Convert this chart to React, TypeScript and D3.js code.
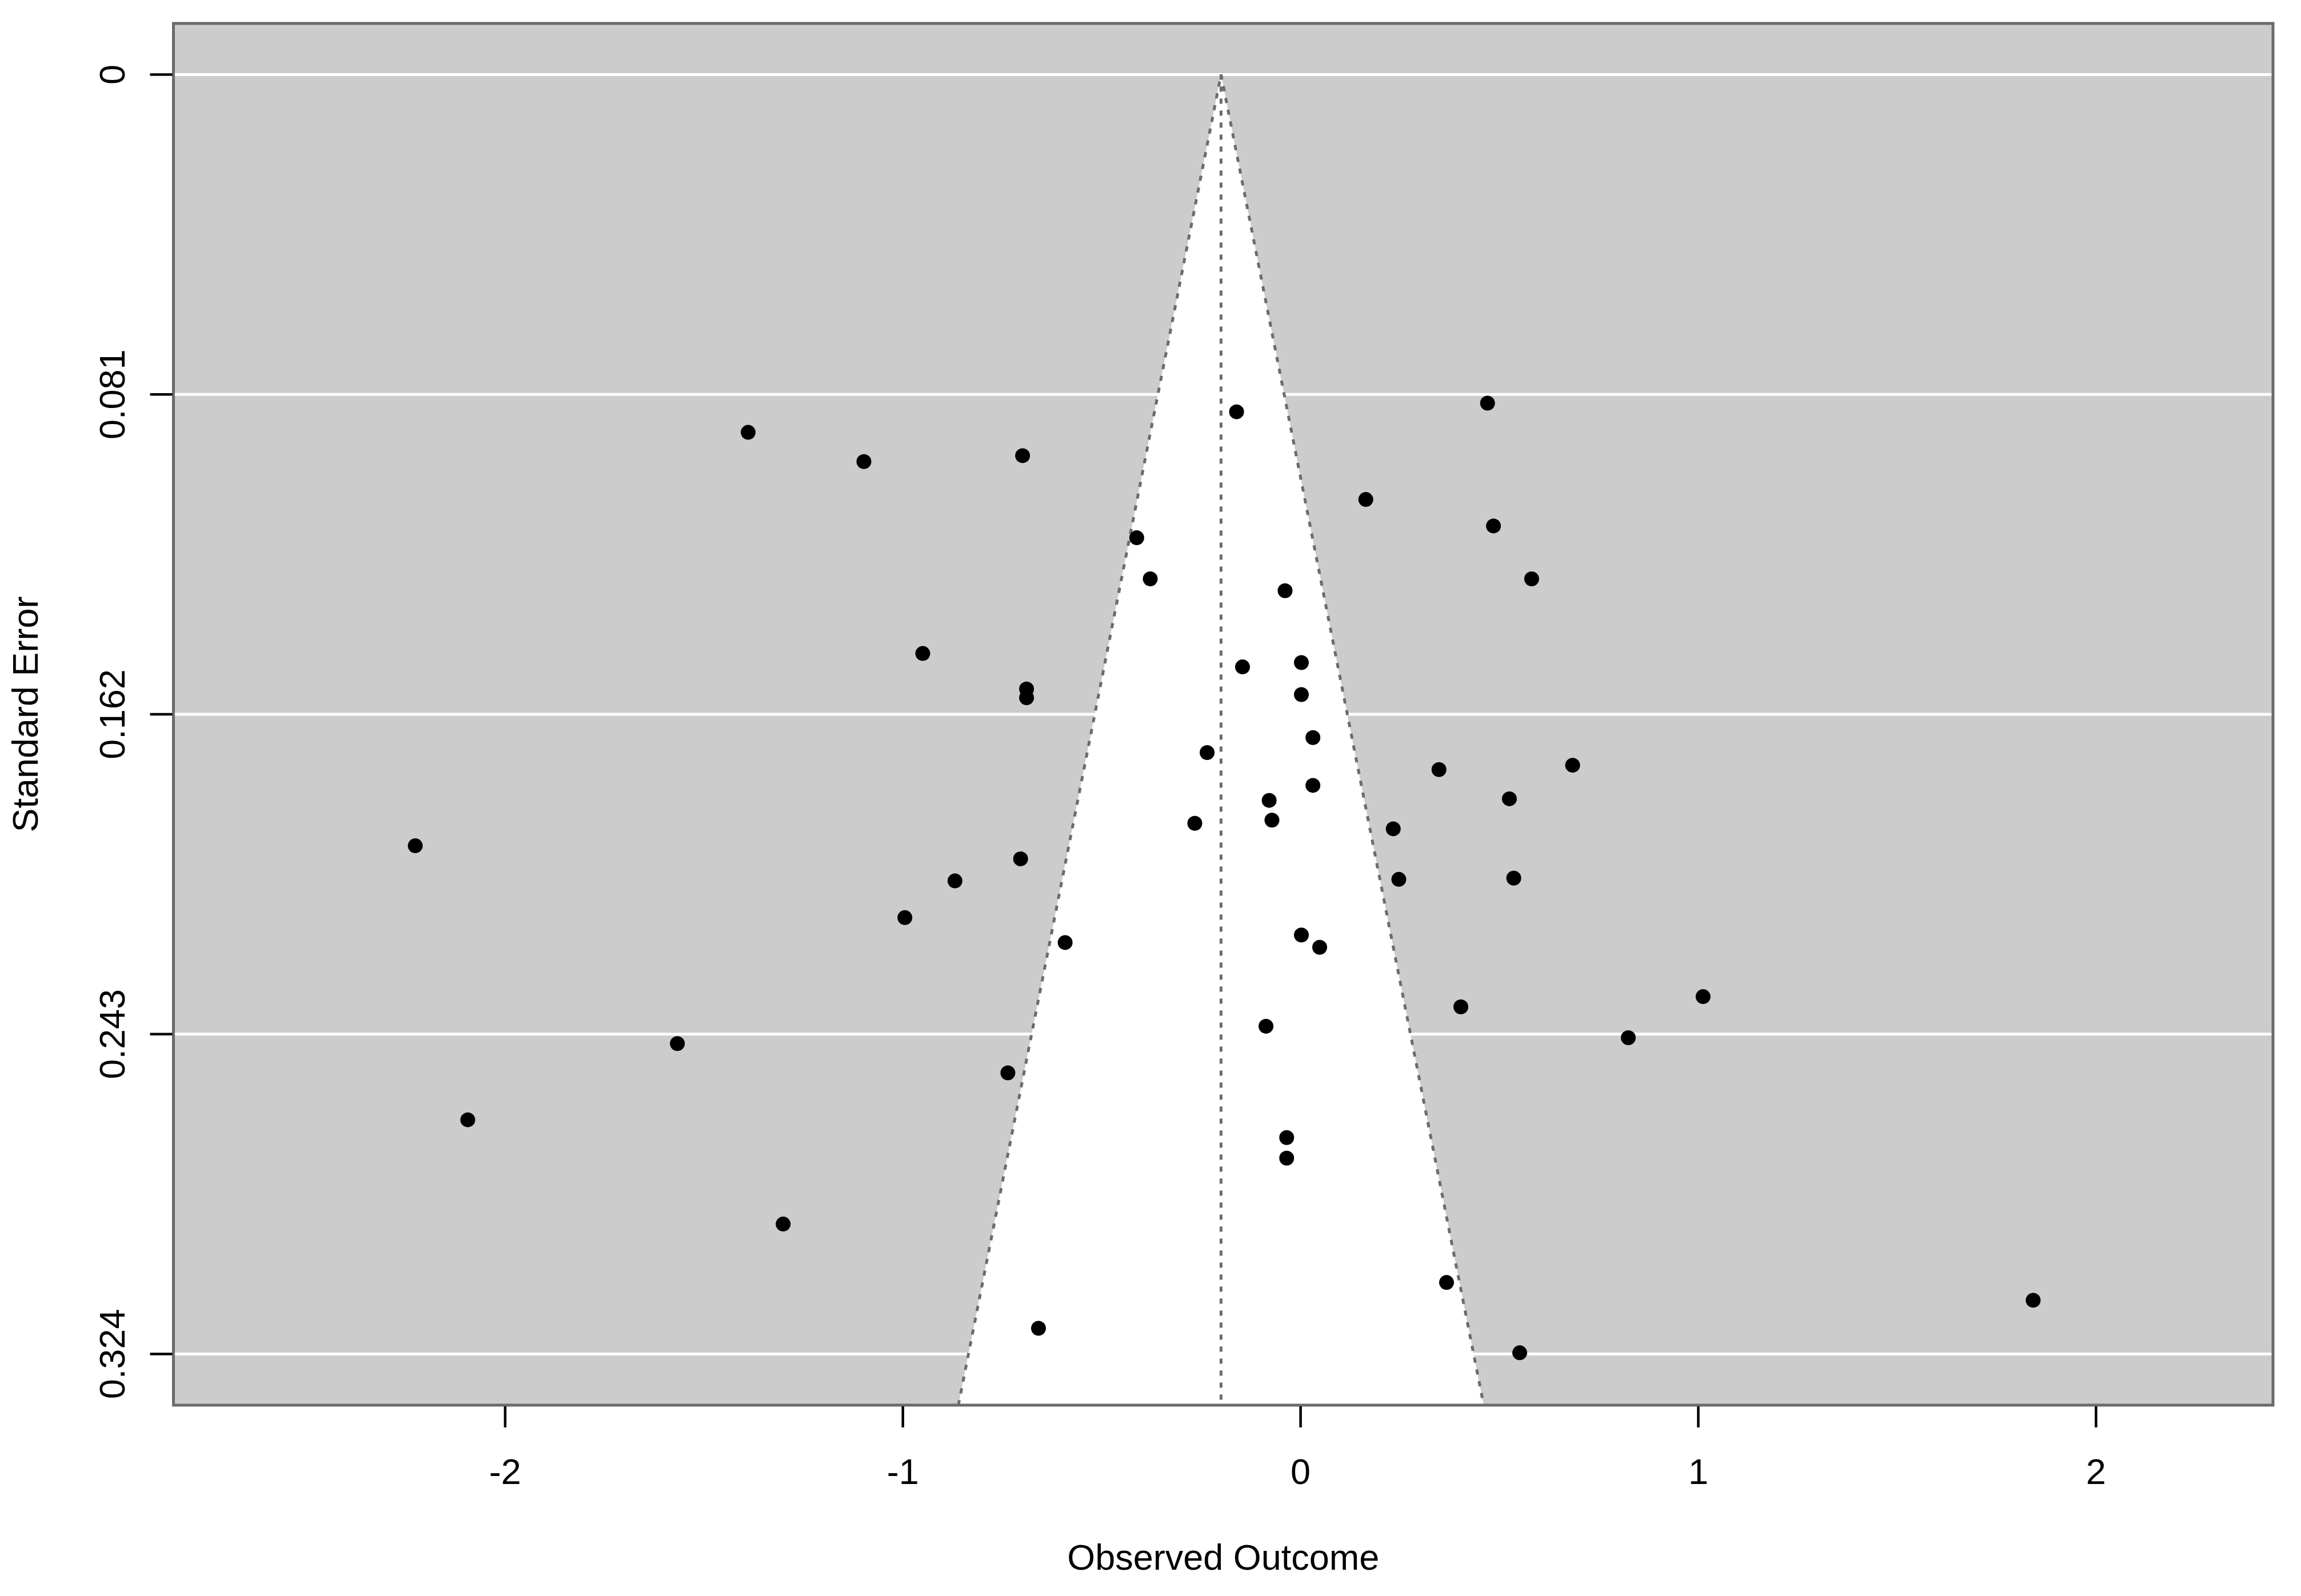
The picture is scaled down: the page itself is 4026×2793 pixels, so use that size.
import React from "react";
import * as d3 from "d3";

// observed outcomes (x) and their standard errors (y)
const outcomes = [
  0.47, -0.161, -1.389, -1.098, -0.699, 0.164, 0.485, -0.412, -0.378, 0.581,
  -0.039, -0.95, 0.002, -0.146, -0.689, -0.689, 0.002, 0.031, -0.235, 0.684,
  0.348, 0.031, 0.525, -0.079, -0.072, -0.266, 0.233, -2.226, -0.704, -0.869,
  0.247, 0.536, -0.995, 0.002, -0.592, 0.048, 1.012, 0.403, -0.087, 0.824,
  -1.567, -0.736, -2.094, -0.035, -0.035, -1.301, 0.367, 1.842, -0.659, 0.551,
];
const stdErrors = [
  0.0832, 0.0854, 0.0906, 0.098, 0.0965, 0.1076, 0.1143, 0.1173, 0.1277, 0.1277,
  0.1307, 0.1466, 0.1489, 0.15, 0.1556, 0.1578, 0.157, 0.1679, 0.1717, 0.1749,
  0.176, 0.18, 0.1834, 0.1838, 0.1888, 0.1896, 0.191, 0.1953, 0.1986, 0.2042,
  0.2038, 0.2035, 0.2135, 0.2179, 0.2198, 0.221, 0.2335, 0.2361, 0.241, 0.2439,
  0.2454, 0.2528, 0.2647, 0.2692, 0.2744, 0.2911, 0.3059, 0.3104, 0.3175, 0.3237,
];
const pooledEstimate = -0.2;
const xTicks = [-2, -1, 0, 1, 2];
const yTicks = [0, 0.081, 0.162, 0.243, 0.324];
const xLabel = "Observed Outcome";
const yLabel = "Standard Error";

export default function App() {
  const width = 4026;
  const height = 2793;
  const left = 303.5, right = 3977, top = 41, bottom = 2459;
  const font = "'Liberation Sans', Arial, sans-serif";

  const x = d3.scaleLinear().domain([-2.834, 2.445]).range([left, right]);
  const y = d3.scaleLinear().domain([-0.01296, 0.33696]).range([top, bottom]);

  const yMax = y.domain()[1];
  const funnel: [number, number][] = [
    [pooledEstimate - 1.96 * yMax, yMax],
    [pooledEstimate, 0],
    [pooledEstimate + 1.96 * yMax, yMax],
  ];
  const line = d3
    .line<[number, number]>()
    .x((d) => x(d[0]))
    .y((d) => y(d[1]));

  const grey = "#6b6b6b";

  return (
    <svg
      width={width}
      height={height}
      style={{ position: "absolute", left: 0, top: 0, background: "#fff" }}
    >
      <rect x={left} y={top} width={right - left} height={bottom - top} fill="#cccccc" />
      {yTicks.map((t) => (
        <line key={"g" + t} x1={left} x2={right} y1={y(t)} y2={y(t)} stroke="#fff" strokeWidth={5} />
      ))}
      <path d={line(funnel) + "Z"} fill="#fff" stroke="none" />
      <path d={line(funnel) ?? ""} fill="none" stroke={grey} strokeWidth={5} strokeDasharray="9 12" />
      <line
        x1={x(pooledEstimate)}
        x2={x(pooledEstimate)}
        y1={y(0)}
        y2={y(yMax)}
        stroke={grey}
        strokeWidth={5}
        strokeDasharray="9 12"
      />
      {outcomes.map((v, i) => (
        <circle key={i} cx={x(v)} cy={y(stdErrors[i])} r={13} fill="#000" />
      ))}
      <rect
        x={left}
        y={top}
        width={right - left}
        height={bottom - top}
        fill="none"
        stroke={grey}
        strokeWidth={5}
      />

      {/* x axis */}
      {xTicks.map((t) => (
        <g key={"x" + t}>
          <line x1={x(t)} x2={x(t)} y1={bottom + 2} y2={bottom + 39} stroke="#000" strokeWidth={4.5} />
          <text x={x(t)} y={2597} textAnchor="middle" fontFamily={font} fontSize={63} fill="#000">
            {t < 0 ? "-" + Math.abs(t) : t}
          </text>
        </g>
      ))}
      <text x={(left + right) / 2} y={2747} textAnchor="middle" fontFamily={font} fontSize={63} fill="#000">
        {xLabel}
      </text>

      {/* y axis */}
      {yTicks.map((t) => (
        <g key={"y" + t}>
          <line x1={left - 2} x2={left - 41} y1={y(t)} y2={y(t)} stroke="#000" strokeWidth={4.5} />
          <text
            transform={`translate(218, ${y(t)}) rotate(-90)`}
            textAnchor="middle"
            fontFamily={font}
            fontSize={63}
            fill="#000"
          >
            {t === 0 ? "0" : t.toFixed(3)}
          </text>
        </g>
      ))}
      <text
        transform={`translate(66, ${(top + bottom) / 2}) rotate(-90)`}
        textAnchor="middle"
        fontFamily={font}
        fontSize={63}
        fill="#000"
      >
        {yLabel}
      </text>
    </svg>
  );
}
